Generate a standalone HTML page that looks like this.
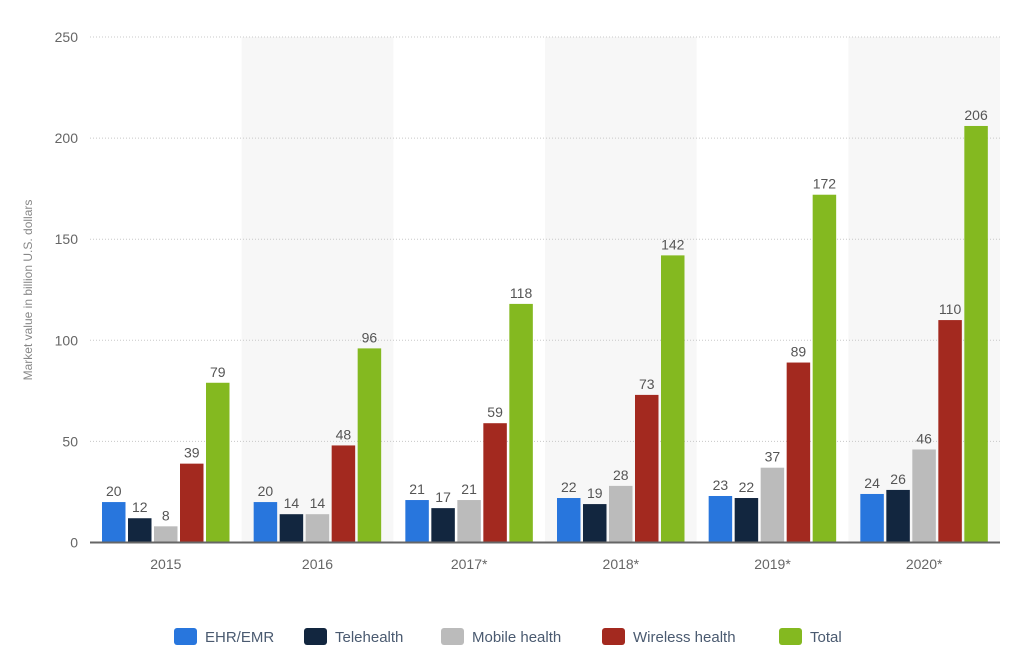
<!DOCTYPE html>
<html><head><meta charset="utf-8"><style>
body{margin:0;background:#fff;font-family:"Liberation Sans",sans-serif}
svg text{font-family:"Liberation Sans",sans-serif}
</style></head><body>
<svg width="1024" height="665" xmlns="http://www.w3.org/2000/svg" id="chart"></svg>
<script>
const categories=["2015","2016","2017*","2018*","2019*","2020*"];
const seriesNames=["EHR/EMR","Telehealth","Mobile health","Wireless health","Total"];
const ehr=[20,20,21,22,23,24];
const tele=[12,14,17,19,22,26];
const mobile=[8,14,21,28,37,46];
const wireless=[39,48,59,73,89,110];
const total=[79,96,118,142,172,206];
const yTicks=[0,50,100,150,200,250];
const colors=["#2876dd","#12263f","#bbbbbb","#a3291f","#84b920"];
const series=[ehr,tele,mobile,wireless,total];
const svg=document.getElementById('chart');
const NS="http://www.w3.org/2000/svg";
const x0=90,x1=1000,y0=542.5,yTop=37;
const band=(x1-x0)/categories.length;
const y=v=>y0-(v/250)*(y0-yTop);
const bx=(i,s)=>x0+band*i+12+s*26;
function mk(t,a,txt){const e=document.createElementNS(NS,t);for(const k in a)e.setAttribute(k,a[k]);if(txt!==undefined)e.textContent=txt;svg.appendChild(e);return e;}
categories.forEach((c,i)=>{if(i%2==1){const r=mk('rect',{x:x0+band*i,y:yTop,width:band,height:y0-yTop,fill:'#f7f7f7'});

}});
yTicks.forEach(t=>{if(t>0){const l=mk('line',{x1:x0,x2:x1,y1:y(t),y2:y(t),stroke:'#c8c8c8','stroke-dasharray':'1,2'});

}
const tx=mk('text',{x:78,y:y(t)+5,'text-anchor':'end','font-size':14,fill:'#666'},t);

});
series.forEach((arr,s)=>arr.forEach((v,i)=>{
const r=mk('rect',{x:bx(i,s),y:y(v),width:23.5,height:y0-y(v),fill:colors[s]});


const t=mk('text',{x:bx(i,s)+11.75,y:y(v)-6,'text-anchor':'middle','font-size':14,fill:'#555'},v);

}));
const ax=mk('line',{x1:x0,x2:x1,y1:y0,y2:y0,stroke:'#666','stroke-width':2});


categories.forEach((c,i)=>{const t=mk('text',{x:x0+band*(i+0.5),y:569,'text-anchor':'middle','font-size':14,fill:'#666'},c);

});
const yt=mk('text',{transform:'translate(32,290) rotate(-90)','text-anchor':'middle','font-size':12,fill:'#888'},'Market value in billion U.S. dollars');


const legX=[174,304,441,602,779],legW=[100,110,130,150,70];
seriesNames.forEach((n,s)=>{const r=mk('rect',{x:legX[s],y:628,width:23,height:17,rx:3,fill:colors[s]});


const t=mk('text',{x:legX[s]+31,y:642,'font-size':15,fill:'#4a5a70'},n);

});
</script>
</body></html>
